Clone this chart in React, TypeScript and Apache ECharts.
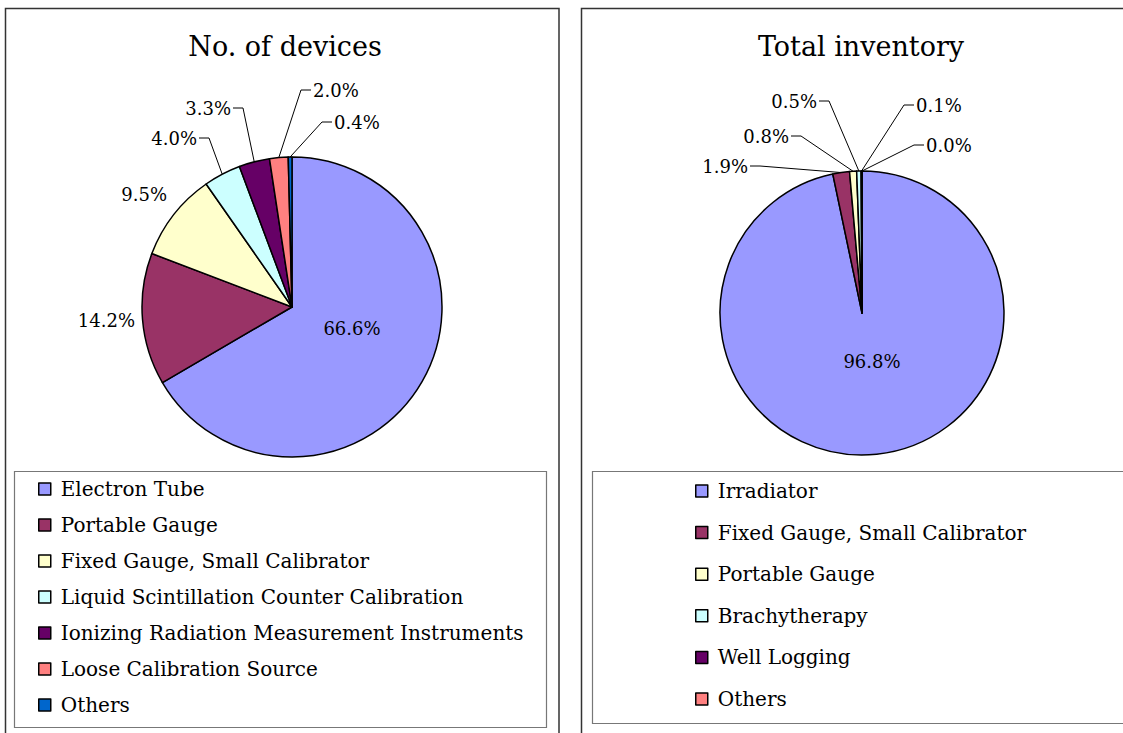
import React, { useEffect, useRef } from 'react';
import * as echarts from 'echarts';

const FONT = '"DejaVu Serif", "Liberation Serif", serif';

// ---- Data ----
const leftTitle = 'No. of devices';
const leftCategories = [
  'Electron Tube',
  'Portable Gauge',
  'Fixed Gauge, Small Calibrator',
  'Liquid Scintillation Counter Calibration',
  'Ionizing Radiation Measurement Instruments',
  'Loose Calibration Source',
  'Others',
];
const leftValues = [66.6, 14.2, 9.5, 4.0, 3.3, 2.0, 0.4];
const leftColors = ['#9999FF', '#993366', '#FFFFCC', '#CCFFFF', '#660066', '#FF8080', '#0066CC'];

const rightTitle = 'Total inventory';
const rightCategories = [
  'Irradiator',
  'Fixed Gauge, Small Calibrator',
  'Portable Gauge',
  'Brachytherapy',
  'Well Logging',
  'Others',
];
const rightValues = [96.8, 1.9, 0.8, 0.5, 0.1, 0.0];
const rightColors = ['#9999FF', '#993366', '#FFFFCC', '#CCFFFF', '#660066', '#FF8080'];

// ---- Label placement (page pixels): x, y, align, has leader line ----
type LP = [number, number, string, boolean];
const leftLabelPos: LP[] = [
  [352, 328, 'center', false],
  [135, 320, 'right', false],
  [167, 194, 'right', false],
  [197, 138, 'right', true],
  [231, 108, 'right', true],
  [313, 90, 'left', true],
  [334, 122, 'left', true],
];
const rightLabelPos: LP[] = [
  [872, 361, 'center', false],
  [748, 166, 'right', true],
  [789, 136, 'right', true],
  [817, 101, 'right', true],
  [916, 105, 'left', true],
  [926, 145, 'left', true],
];

interface PanelCfg {
  offset: number;
  title: string;
  titleX: number;
  categories: string[];
  values: number[];
  colors: string[];
  labelPos: LP[];
  center: [number, number];
  radius: number;
  panelRect: [number, number, number, number];
  legendRect: [number, number, number, number];
  legendLeft: number;
  legendTop: number;
  legendGap: number;
}

function buildOption(c: PanelCfg): any {
  const o = c.offset;
  return {
    animation: false,
    graphic: [
      {
        type: 'rect',
        shape: { x: c.panelRect[0] - o, y: c.panelRect[1], width: c.panelRect[2], height: c.panelRect[3] },
        style: { fill: 'none', stroke: '#333', lineWidth: 1.5 },
        z: 0,
      },
      {
        type: 'rect',
        shape: { x: c.legendRect[0] - o, y: c.legendRect[1], width: c.legendRect[2], height: c.legendRect[3] },
        style: { fill: 'none', stroke: '#777', lineWidth: 1.2 },
        z: 0,
      },
      {
        type: 'text',
        x: c.titleX - o,
        y: 46,
        style: {
          text: c.title,
          font: `27px ${FONT}`,
          fill: '#000',
          textAlign: 'center',
          textVerticalAlign: 'middle',
        },
        z: 5,
      },
    ],
    legend: {
      orient: 'vertical',
      left: c.legendLeft - o,
      top: c.legendTop,
      padding: 0,
      itemWidth: 12,
      itemHeight: 12,
      itemGap: c.legendGap,
      icon: 'rect',
      selectedMode: false,
      itemStyle: { borderColor: '#000', borderWidth: 1.5 },
      textStyle: {
        fontFamily: FONT,
        fontSize: 20,
        lineHeight: 20,
        color: '#000',
        padding: [0, 0, 0, 5],
      },
      data: c.categories,
    },
    series: [
      {
        type: 'pie',
        center: [c.center[0] - o, c.center[1]],
        radius: c.radius,
        startAngle: 90,
        clockwise: true,
        avoidLabelOverlap: false,
        itemStyle: { borderColor: '#000', borderWidth: 1.5 },
        emphasis: { disabled: true },
        label: {
          show: true,
          position: 'outside',
          fontFamily: FONT,
          fontSize: 18,
          color: '#000',
          formatter: (p: any) => `${Number(p.value).toFixed(1)}%`,
        },
        labelLine: {
          show: true,
          length: 10,
          length2: 10,
          lineStyle: { color: '#000', width: 1 },
        },
        labelLayout: (params: any) => {
          const lp = c.labelPos[params.dataIndex];
          if (!lp) return {};
          const [x, y, align, leader] = lp;
          const lx = x - o;
          const res: any = { x: lx, y, align, verticalAlign: 'middle' };
          if (leader && params.labelLinePoints && params.labelLinePoints.length) {
            const s = params.labelLinePoints[0];
            const dir = align === 'right' ? 1 : -1;
            res.labelLinePoints = [
              [s[0], s[1]],
              [lx + dir * 12, y],
              [lx + dir * 2, y],
            ];
          }
          return res;
        },
        data: c.categories.map((name, i) => ({
          name,
          value: c.values[i],
          itemStyle: { color: c.colors[i] },
          labelLine: { show: c.labelPos[i] ? c.labelPos[i][3] : false },
        })),
      },
    ],
  };
}

const LEFT_OFFSET = 0;
const RIGHT_OFFSET = 570;

const leftCfg: PanelCfg = {
  offset: LEFT_OFFSET,
  title: leftTitle,
  titleX: 285,
  categories: leftCategories,
  values: leftValues,
  colors: leftColors,
  labelPos: leftLabelPos,
  center: [292, 307],
  radius: 150,
  panelRect: [5.5, 8.5, 553.5, 800],
  legendRect: [14.5, 471.5, 532, 256],
  legendLeft: 38,
  legendTop: 479,
  legendGap: 16,
};

const rightCfg: PanelCfg = {
  offset: RIGHT_OFFSET,
  title: rightTitle,
  titleX: 861,
  categories: rightCategories,
  values: rightValues,
  colors: rightColors,
  labelPos: rightLabelPos,
  center: [862, 313],
  radius: 142,
  panelRect: [581.5, 8.5, 620, 800],
  legendRect: [592.5, 471.5, 620, 252],
  legendLeft: 695,
  legendTop: 481,
  legendGap: 21.6,
};

function PieChart({ cfg, left, width }: { cfg: PanelCfg; left: number; width: number }) {
  const ref = useRef<HTMLDivElement>(null);
  useEffect(() => {
    if (!ref.current) return;
    const chart = echarts.init(ref.current, undefined, { renderer: 'svg' });
    chart.setOption(buildOption(cfg));
    return () => chart.dispose();
  }, [cfg]);
  return (
    <div
      ref={ref}
      style={{ position: 'absolute', left, top: 0, width, height: 733, background: 'transparent' }}
    />
  );
}

export default function App() {
  return (
    <div style={{ position: 'absolute', left: 0, top: 0, width: 1123, height: 733, background: '#fff', overflow: 'hidden' }}>
      <PieChart cfg={leftCfg} left={LEFT_OFFSET} width={RIGHT_OFFSET} />
      <PieChart cfg={rightCfg} left={RIGHT_OFFSET} width={1123 - RIGHT_OFFSET} />
    </div>
  );
}
